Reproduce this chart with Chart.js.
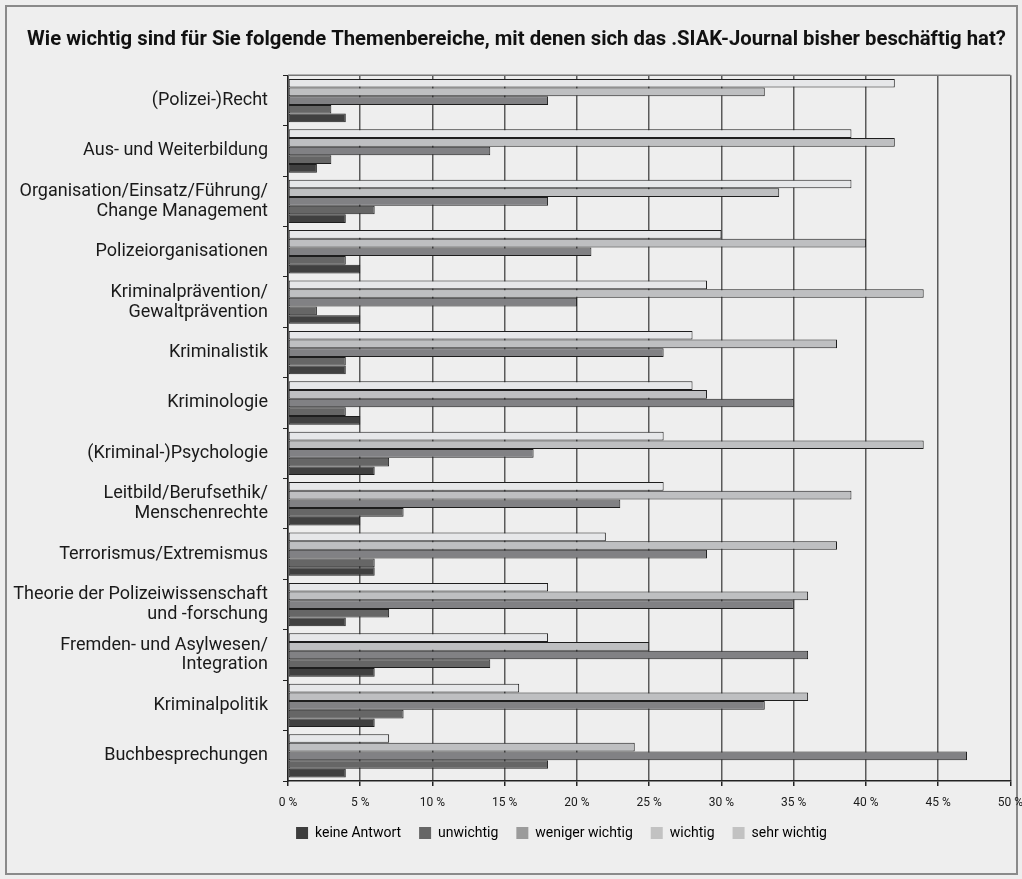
<!DOCTYPE html>
<html lang="de">
<head>
  <meta charset="UTF-8">
  <title>SIAK-Journal Themenbereiche</title>
  <script src="https://cdn.jsdelivr.net/npm/chart.js"></script>
  <style>
    html, body { margin: 0; padding: 0; background: #eeeeee; overflow: hidden; }
    #frame { position: absolute; left: 5px; top: 5px; width: 1009px; height: 866px; border: 2px solid #8a8a8a; }
    #wrap { position: absolute; left: 0; top: 0; width: 1033px; height: 879px; }
  </style>
</head>
<body>
  <div id="frame"></div>
  <div id="wrap"><canvas id="chart"></canvas></div>

  <script>
    const categories = [
      '(Polizei-)Recht',
      'Aus- und Weiterbildung',
      ['Organisation/Einsatz/Führung/', 'Change Management'],
      'Polizeiorganisationen',
      ['Kriminalprävention/', 'Gewaltprävention'],
      'Kriminalistik',
      'Kriminologie',
      '(Kriminal-)Psychologie',
      ['Leitbild/Berufsethik/', 'Menschenrechte'],
      'Terrorismus/Extremismus',
      ['Theorie der Polizeiwissenschaft', 'und -forschung'],
      ['Fremden- und Asylwesen/', 'Integration'],
      'Kriminalpolitik',
      'Buchbesprechungen'
    ];

    // values in percent, one per category
    const sehrWichtig    = [42, 39, 39, 30, 29, 28, 28, 26, 26, 22, 18, 18, 16, 7];
    const wichtig        = [33, 42, 34, 40, 44, 38, 29, 44, 39, 38, 36, 25, 36, 24];
    const wenigerWichtig = [18, 14, 18, 21, 20, 26, 35, 17, 23, 29, 35, 36, 33, 47];
    const unwichtig      = [3, 3, 6, 4, 2, 4, 4, 7, 8, 6, 7, 14, 8, 18];
    const keineAntwort   = [4, 2, 4, 5, 5, 4, 5, 6, 5, 6, 4, 6, 6, 4];

    const xTicks = [0, 5, 10, 15, 20, 25, 30, 35, 40, 45, 50];

    const barColors = {
      sehr: '#e6e7e9',
      wichtig: '#bebfc1',
      weniger: '#818184',
      unwichtig: '#666666',
      keine: '#404040'
    };
    const legendColors = {
      sehr: '#c2c2c2',
      wichtig: '#c2c2c2',
      weniger: '#9b9b9b',
      unwichtig: '#666666',
      keine: '#3d3d3d'
    };

    function ds(label, data, key) {
      return {
        label: label,
        data: data,
        backgroundColor: barColors[key],
        legendColor: legendColors[key],
        borderColor: '#1e1e1e',
        borderWidth: 1,
        borderSkipped: false,
        barPercentage: 1.0,
        categoryPercentage: 0.86
      };
    }

    // line along the top of the plot, and nudge the legend a bit to the right
    const extras = {
      id: 'extras',
      afterLayout(chart) {
        chart.legend.left += 90;
      },
      afterDraw(chart) {
        const a = chart.chartArea;
        const c = chart.ctx;
        c.save();
        c.strokeStyle = '#777';
        c.lineWidth = 1.5;
        c.beginPath();
        c.moveTo(a.left, a.top);
        c.lineTo(a.right, a.top);
        c.stroke();
        c.restore();
      }
    };

    Chart.defaults.font.family = 'Roboto, "DejaVu Sans", sans-serif';
    Chart.defaults.color = '#1a1a1a';

    const ctx = document.getElementById('chart').getContext('2d');
    new Chart(ctx, {
      type: 'bar',
      data: {
        labels: categories,
        datasets: [
          ds('sehr wichtig', sehrWichtig, 'sehr'),
          ds('wichtig', wichtig, 'wichtig'),
          ds('weniger wichtig', wenigerWichtig, 'weniger'),
          ds('unwichtig', unwichtig, 'unwichtig'),
          ds('keine Antwort', keineAntwort, 'keine')
        ]
      },
      plugins: [extras],
      options: {
        indexAxis: 'y',
        responsive: true,
        maintainAspectRatio: false,
        animation: false,
        layout: { padding: { left: 0, right: 0, top: 0, bottom: 29 } },
        plugins: {
          title: {
            display: true,
            text: 'Wie wichtig sind für Sie folgende Themenbereiche, mit denen sich das .SIAK-Journal bisher beschäftig hat?',
            font: { size: 20.3, weight: 'bold' },
            color: '#111',
            padding: { top: 28, bottom: 23 }
          },
          legend: {
            position: 'bottom',
            reverse: true,
            labels: {
              boxWidth: 12,
              boxHeight: 12,
              padding: 18,
              font: { size: 14 },
              color: '#1a1a1a',
              generateLabels(chart) {
                return chart.data.datasets.map((d, i) => ({
                  text: d.label,
                  fillStyle: d.legendColor,
                  strokeStyle: d.legendColor,
                  lineWidth: 0,
                  hidden: false,
                  datasetIndex: i
                }));
              }
            }
          },
          tooltip: { enabled: false }
        },
        scales: {
          x: {
            min: 0,
            max: 50,
            afterBuildTicks(scale) {
              scale.ticks = xTicks.map(v => ({ value: v }));
            },
            afterFit(scale) { scale.height = 27; },
            ticks: {
              callback: v => v + ' %',
              font: { size: 12 },
              color: '#1a1a1a',
              padding: 10,
              maxRotation: 0
            },
            grid: {
              color: '#5a5a5a',
              lineWidth: 1.5,
              tickLength: 5,
              tickColor: '#222'
            },
            border: { color: '#222', width: 1.5 }
          },
          y: {
            afterFit(scale) { scale.width = 288; },
            ticks: {
              font: { size: 18, lineHeight: 1.11 },
              color: '#1a1a1a',
              padding: 15,
              autoSkip: false
            },
            grid: {
              drawOnChartArea: false,
              offset: true,
              tickLength: 5,
              color: '#222'
            },
            border: { color: '#222', width: 1.5 }
          }
        }
      }
    });
  </script>
</body>
</html>
